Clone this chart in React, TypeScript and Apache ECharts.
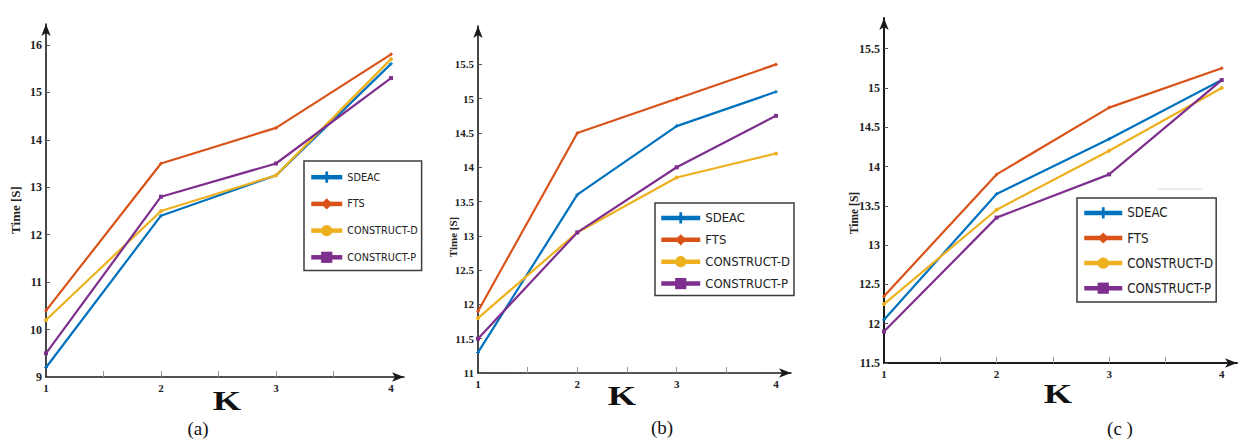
import React, { useEffect, useRef } from "react";
import * as echarts from "echarts";

// ---------- DATA ----------
const kValues = [1, 2, 3, 4];
const seriesNames = ["SDEAC", "FTS", "CONSTRUCT-D", "CONSTRUCT-P"];

const aSDEAC = [9.2, 12.4, 13.25, 15.6];
const aFTS = [10.4, 13.5, 14.25, 15.8];
const aConstructD = [10.2, 12.5, 13.25, 15.7];
const aConstructP = [9.5, 12.8, 13.5, 15.3];

const bSDEAC = [11.3, 13.6, 14.6, 15.1];
const bFTS = [11.9, 14.5, 15.0, 15.5];
const bConstructD = [11.8, 13.05, 13.85, 14.2];
const bConstructP = [11.5, 13.05, 14.0, 14.75];

const cSDEAC = [12.05, 13.65, 14.35, 15.1];
const cFTS = [12.35, 13.9, 14.75, 15.25];
const cConstructD = [12.25, 13.45, 14.2, 15.0];
const cConstructP = [11.9, 13.35, 13.9, 15.1];

const aYTicks = [9, 10, 11, 12, 13, 14, 15, 16];
const bYTicks = [11, 11.5, 12, 12.5, 13, 13.5, 14, 14.5, 15, 15.5];
const cYTicks = [11.5, 12, 12.5, 13, 13.5, 14, 14.5, 15, 15.5];
const xTickLabels = [1, 2, 3, 4];
const xMinorTicks = [1.5, 2, 2.5, 3, 3.5];

const yAxisTitle = "Time [S]";
const xAxisTitle = "K";
const panelLabels = ["(a)", "(b)", "(c )"];

// ---------- STYLE / LAYOUT ----------
const colors = ["#0072BD", "#D95319", "#EDB120", "#7E2F8E"];
const plusPath = "path://M3,0H5V3H8V5H5V8H3V5H0V3H3Z";
const symbols = [plusPath, "diamond", "circle", "rect"];
const serifFont = "'Liberation Serif', 'Times New Roman', serif";
const legendFont = "'Liberation Sans Narrow', 'Arial Narrow', 'DejaVu Sans Condensed', 'Liberation Sans', sans-serif";

const panels = [
  {
    data: [aSDEAC, aFTS, aConstructD, aConstructP],
    yTicks: aYTicks, yMin: 9, yMax: 16.44, xMax: 4.113,
    grid: { left: 46, top: 24, width: 358, height: 353 },
    yLabelSize: 12, axisWidth: 1.6,
    legend: { left: 304, top: 161, padding: [10.6, 4, 7.6, 5], itemGap: 15.5, itemWidth: 31, itemHeight: 14, fontSize: 10.8 },
    title: { x: 15, y: 210, size: 13 },
    k: { x: 227, y: 401 },
    label: { x: 198, y: 428 },
  },
  {
    data: [bSDEAC, bFTS, bConstructD, bConstructP],
    yTicks: bYTicks, yMin: 11, yMax: 16.06, xMax: 4.151,
    grid: { left: 478, top: 26, width: 313, height: 347 },
    yLabelSize: 11, axisWidth: 1.6,
    legend: { left: 655, top: 203, padding: [8.4, 4, 5.4, 4], itemGap: 8.9, itemWidth: 39, itemHeight: 14, fontSize: 13 },
    title: { x: 453, y: 237, size: 11 },
    k: { x: 622, y: 396 },
    label: { x: 662, y: 427 },
  },
  {
    data: [cSDEAC, cFTS, cConstructD, cConstructP],
    yTicks: cYTicks, yMin: 11.5, yMax: 15.89, xMax: 4.136,
    grid: { left: 884, top: 18, width: 353, height: 345 },
    yLabelSize: 12, axisWidth: 2,
    legend: { left: 1077, top: 198, padding: [8.4, 3, 7.4, 5], itemGap: 12.1, itemWidth: 38, itemHeight: 14, fontSize: 13.2 },
    title: { x: 854, y: 213, size: 11.5 },
    k: { x: 1058, y: 394 },
    label: { x: 1120, y: 428 },
  },
];

function buildOption() {
  const grid: any[] = [];
  const xAxis: any[] = [];
  const yAxis: any[] = [];
  const series: any[] = [];
  const legend: any[] = [];
  const graphic: any[] = [];

  panels.forEach((p, pi) => {
    grid.push({ ...p.grid, containLabel: false });
    const axisLine = {
      show: true,
      symbol: ["none", "arrow"],
      symbolSize: [7, 12],
      lineStyle: { color: "#1a1a1a", width: p.axisWidth },
    };
    xAxis.push({
      type: "value",
      gridIndex: pi,
      min: 1,
      max: p.xMax,
      interval: 0.5,
      axisLine,
      splitLine: { show: false },
      axisTick: { show: true, inside: true, length: 6, customValues: xMinorTicks, lineStyle: { color: "#999", width: 1 } },
      axisLabel: {
        customValues: xTickLabels,
        margin: 5,
        fontFamily: serifFont,
        fontWeight: "bold",
        fontSize: 11,
        color: "#222",
      },
    });
    yAxis.push({
      type: "value",
      gridIndex: pi,
      min: p.yMin,
      max: p.yMax,
      interval: 0.5,
      axisLine,
      splitLine: { show: false },
      axisTick: { show: true, inside: true, length: 4, customValues: p.yTicks, lineStyle: { color: "#555", width: 1 } },
      axisLabel: {
        customValues: p.yTicks,
        margin: 4,
        fontFamily: serifFont,
        fontWeight: "bold",
        fontSize: p.yLabelSize,
        color: "#222",
      },
    });
    p.data.forEach((vals, si) => {
      series.push({
        type: "line",
        name: seriesNames[si],
        xAxisIndex: pi,
        yAxisIndex: pi,
        data: kValues.map((k, i) => [k, vals[i]]),
        symbol: symbols[si],
        symbolSize: 4,
        showSymbol: true,
        color: colors[si],
        lineStyle: { width: 2.2, color: colors[si] },
        itemStyle: { color: colors[si] },
        z: 3 + si,
      });
    });
    legend.push({
      orient: "vertical",
      left: p.legend.left,
      top: p.legend.top,
      padding: p.legend.padding,
      itemGap: p.legend.itemGap,
      itemWidth: p.legend.itemWidth,
      itemHeight: p.legend.itemHeight,
      selectedMode: false,
      backgroundColor: "#fff",
      borderColor: "#3c3c3c",
      borderWidth: 1.5,
      borderRadius: 0,
      lineStyle: { width: 4.5 },
      textStyle: { fontFamily: legendFont, fontSize: p.legend.fontSize, color: "#222" },
      data: seriesNames,
    });
    graphic.push({
      type: "text",
      x: p.title.x,
      y: p.title.y,
      rotation: Math.PI / 2,
      style: {
        text: yAxisTitle,
        font: `bold ${p.title.size}px ${serifFont}`,
        fill: "#222",
        align: "center",
        verticalAlign: "middle",
      },
    });
    graphic.push({
      type: "text",
      x: p.k.x,
      y: p.k.y,
      scaleX: 1.35,
      style: {
        text: xAxisTitle,
        font: `bold 27px ${serifFont}`,
        fill: "#111",
        align: "center",
        verticalAlign: "middle",
      },
    });
    graphic.push({
      type: "text",
      x: p.label.x,
      y: p.label.y,
      style: {
        text: panelLabels[pi],
        font: `19px ${serifFont}`,
        fill: "#111",
        align: "center",
        verticalAlign: "middle",
      },
    });
  });

  graphic.push({
    type: "line",
    shape: { x1: 1158, y1: 189, x2: 1202, y2: 189 },
    style: { stroke: "#d8d8d8", lineWidth: 1 },
  });

  return {
    animation: false,
    backgroundColor: "#ffffff",
    grid,
    xAxis,
    yAxis,
    series,
    legend,
    graphic,
  };
}

export default function App() {
  const ref = useRef<HTMLDivElement>(null);
  useEffect(() => {
    if (!ref.current) return;
    const chart = echarts.init(ref.current, undefined, { renderer: "svg" });
    chart.setOption(buildOption());
    return () => chart.dispose();
  }, []);
  return (
    <div
      ref={ref}
      style={{ position: "absolute", left: 0, top: 0, width: 1245, height: 441, background: "#fff" }}
    />
  );
}
